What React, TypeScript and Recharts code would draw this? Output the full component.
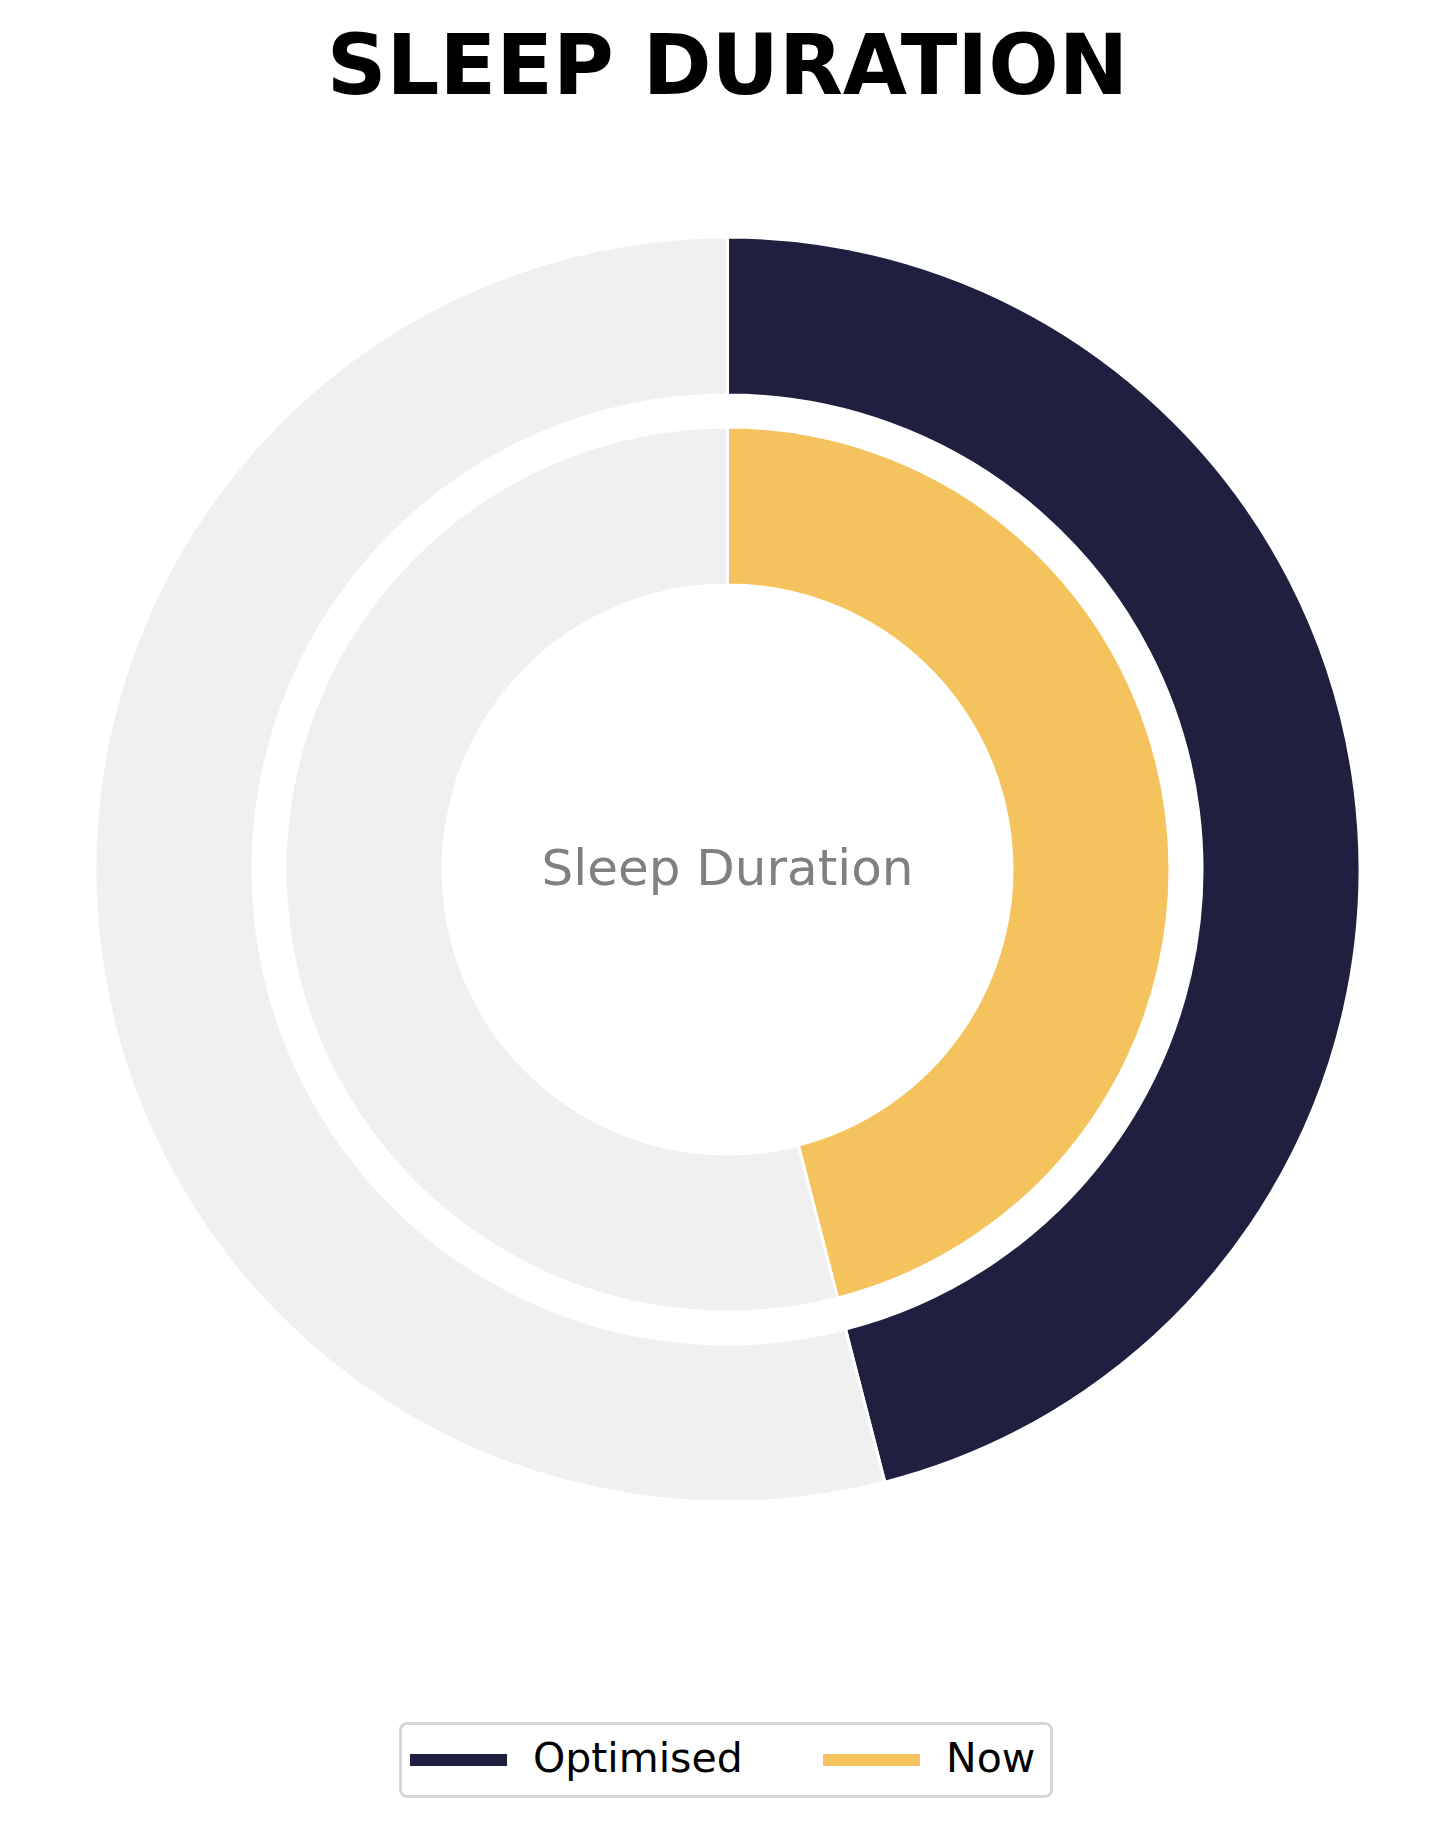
import React from 'react';
import { PieChart, Pie, Cell, Label, Legend } from 'recharts';

// values (share of the full circle, in %)
const categories = ['Optimised', 'Now'];
const optimisedValues = [46, 54];
const nowValues = [46, 54];
const seriesColors = ['#1F1F3F', '#F5C35E'];
const restColor = '#F0F0F0';

const outerData = optimisedValues.map((v, i) => ({ name: i === 0 ? categories[0] : 'rest', value: v }));
const innerData = nowValues.map((v, i) => ({ name: i === 0 ? categories[1] : 'rest', value: v }));

const FONT = '"DejaVu Sans", Verdana, sans-serif';

const LegendBox = () => (
  <div
    style={{
      width: 654,
      height: 76,
      boxSizing: 'border-box',
      border: '3px solid #D6D6D6',
      borderRadius: 8,
      background: '#fff',
      position: 'relative',
      fontFamily: FONT,
      fontSize: 41,
      color: '#000',
    }}
  >
    {categories.map((c, i) => (
      <div
        key={c}
        style={{
          position: 'absolute',
          left: i === 0 ? 8 : 421,
          top: 0,
          height: 70,
          display: 'flex',
          alignItems: 'center',
        }}
      >
        <div style={{ width: 97, height: 12, background: seriesColors[i], marginRight: 26 }} />
        <span style={{ lineHeight: 1, position: 'relative', top: -2 }}>{c}</span>
      </div>
    ))}
  </div>
);

export default function App() {
  return (
    <div style={{ position: 'absolute', left: 0, top: 0, width: 1455, height: 1828, background: '#fff' }}>
      <div
        style={{
          position: 'absolute',
          left: 0,
          top: 24,
          width: 1455,
          textAlign: 'center',
          fontFamily: FONT,
          fontWeight: 'bold',
          fontSize: 83,
          lineHeight: 1,
          color: '#000',
        }}
      >
        SLEEP DURATION
      </div>
      <PieChart width={1455} height={1828} margin={{ top: 0, right: 0, bottom: 0, left: 0 }}>
        <Pie
          data={outerData}
          dataKey="value"
          cx={727.5}
          cy={869.5}
          innerRadius={474.5}
          outerRadius={632.5}
          startAngle={90}
          endAngle={-270}
          stroke="#fff"
          strokeWidth={3}
          isAnimationActive={false}
        >
          {outerData.map((d, i) => (
            <Cell key={`o-${i}`} fill={i === 0 ? seriesColors[0] : restColor} />
          ))}
        </Pie>
        <Pie
          data={innerData}
          dataKey="value"
          cx={727.5}
          cy={869.5}
          innerRadius={284.5}
          outerRadius={442.5}
          startAngle={90}
          endAngle={-270}
          stroke="#fff"
          strokeWidth={3}
          isAnimationActive={false}
        >
          {innerData.map((d, i) => (
            <Cell key={`i-${i}`} fill={i === 0 ? seriesColors[1] : restColor} />
          ))}
          <Label
            value="Sleep Duration"
            position="center"
            fill="#808080"
            fontSize={50}
            fontFamily={FONT}
            dy={-9}
          />
        </Pie>
        <Legend
          content={<LegendBox />}
          wrapperStyle={{ position: 'absolute', left: 399, top: 1722, width: 654, height: 76 }}
        />
      </PieChart>
    </div>
  );
}
